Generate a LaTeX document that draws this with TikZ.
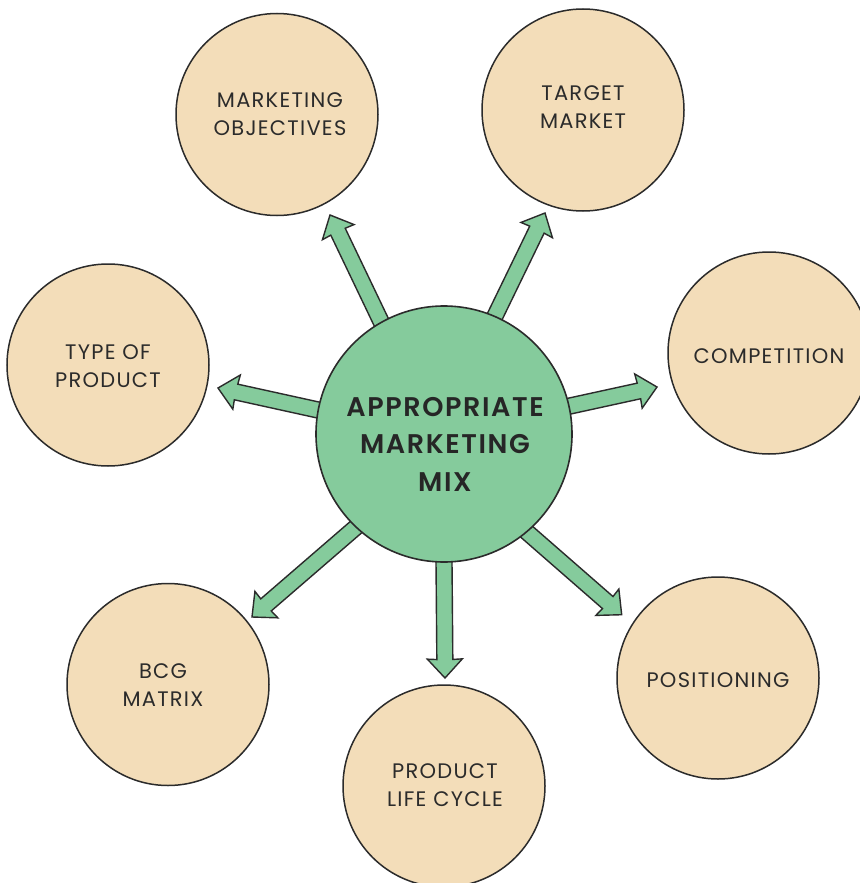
\documentclass[tikz,border=0pt]{standalone}
\usepackage{fontspec}
\setmainfont[LetterSpace=6]{Poppins}
\newfontfamily\hubfont[LetterSpace=6]{Poppins SemiBold}
\usetikzlibrary{calc}
\definecolor{hubgreen}{HTML}{85CB9C}
\definecolor{sand}{HTML}{F3DDB9}
\definecolor{ink}{HTML}{2B2B2B}
\tikzset{
  x=1pt,y=-1pt,
  topic/.style={circle,draw=ink,fill=sand,line width=1.5pt,minimum size=202pt,inner sep=0pt,outer sep=0pt},
  hubnode/.style={circle,draw=ink,fill=hubgreen,line width=1.6pt,minimum size=256pt,inner sep=0pt,outer sep=0pt},
  topiclabel/.style={align=center,text=ink,font=\fontsize{21}{28}\selectfont},
  hublabel/.style={align=center,text=black!85,font=\hubfont\fontsize{27}{37.5}\selectfont},
  blockarrow/.style={draw=ink,fill=hubgreen,line width=1.4pt,line join=miter}
}
% block arrow from a point on the hub to a named tip coordinate
\newcommand{\blockarrow}[2]{%
  \path let \p1=($(#2)-(#1)$),\n1={atan2(\y1,\x1)},\n2={veclen(\x1,\y1)} in
    [draw=ink,fill=hubgreen,line width=1.4pt]
    [shift={(#1)},rotate=\n1]
    (-8pt,-8pt) -- ({\n2-18.5pt},-8pt) -- ({\n2-19pt},-17.5pt) -- (\n2,0pt)
    -- ({\n2-19pt},17.5pt) -- ({\n2-18.5pt},8pt) -- (-8pt,8pt) -- cycle;%
}
\begin{document}
\begin{tikzpicture}
\useasboundingbox[fill=white] (0,0) rectangle (859,883);
\coordinate (hubc) at (444,434);
\coordinate (tipObj) at (330,215);
\coordinate (tipTar) at (545,213);
\coordinate (tipCom) at (657,387);
\coordinate (tipTyp) at (218,388);
\coordinate (tipBcg) at (252,617);
\coordinate (tipPlc) at (445,678);
\coordinate (tipPos) at (622,615);
\coordinate (baseObj) at (380.5,320.5);
\coordinate (baseTar) at (495.5,315);
\coordinate (baseCom) at (570,406);
\coordinate (baseTyp) at (318,410);
\coordinate (baseBcg) at (355,528);
\coordinate (basePlc) at (444,562);
\coordinate (basePos) at (527.5,532.5);

\blockarrow{baseObj}{tipObj}
\blockarrow{baseTar}{tipTar}
\blockarrow{baseCom}{tipCom}
\blockarrow{baseTyp}{tipTyp}
\blockarrow{baseBcg}{tipBcg}
\blockarrow{basePlc}{tipPlc}
\blockarrow{basePos}{tipPos}

\node[hubnode] (hub) at (hubc) {};
\node[topic] (obj) at (277,114.5) {};
\node[topic] (tar) at (583,110) {};
\node[topic] (com) at (769,353) {};
\node[topic] (typ) at (108,365) {};
\node[topic] (bcg) at (168,684.5) {};
\node[topic] (plc) at (444,786) {};
\node[topic] (pos) at (718,678) {};

\node[hublabel] (hubt) at (445,444) {APPROPRIATE\\MARKETING\\MIX};
\node[topiclabel] (objt) at (280,114) {MARKETING\\OBJECTIVES};
\node[topiclabel] (tart) at (583,107) {TARGET\\MARKET};
\node[topiclabel] (comt) at (769,356) {COMPETITION};
\node[topiclabel] (typt) at (108,366) {TYPE OF\\PRODUCT};
\node[topiclabel] (bcgt) at (163,685) {BCG\\MATRIX};
\node[topiclabel] (plct) at (445,785) {PRODUCT\\LIFE CYCLE};
\node[topiclabel] (post) at (718,680) {POSITIONING};
\end{tikzpicture}
\end{document}
